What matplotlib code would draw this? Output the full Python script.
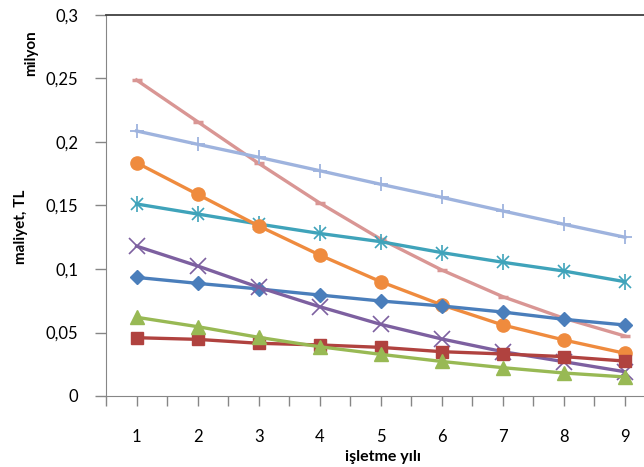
import matplotlib
matplotlib.use('Agg')
import matplotlib.pyplot as plt
from matplotlib.ticker import FuncFormatter, MultipleLocator

plt.rcParams['font.family'] = ['Lato', 'DejaVu Sans']

# veriler (milyon TL)
yil = [1, 2, 3, 4, 5, 6, 7, 8, 9]
mavi = [0.0934, 0.0887, 0.0843, 0.0795, 0.0748, 0.0709, 0.0661, 0.0604, 0.0559]
kirmizi = [0.0459, 0.0446, 0.0415, 0.0402, 0.0383, 0.0349, 0.0331, 0.0310, 0.0275]
yesil = [0.0620, 0.0546, 0.0462, 0.0388, 0.0328, 0.0272, 0.0223, 0.0181, 0.0150]
mor = [0.1180, 0.1024, 0.0856, 0.0703, 0.0564, 0.0449, 0.0349, 0.0270, 0.0191]
turkuaz = [0.1512, 0.1433, 0.1354, 0.1280, 0.1215, 0.1129, 0.1053, 0.0984, 0.0900]
turuncu = [0.1837, 0.1588, 0.1339, 0.1110, 0.0900, 0.0717, 0.0559, 0.0441, 0.0336]
acik_mavi = [0.2087, 0.1982, 0.1880, 0.1774, 0.1667, 0.1564, 0.1457, 0.1352, 0.1250]
pembe = [0.2488, 0.2160, 0.1832, 0.1520, 0.1235, 0.0992, 0.0782, 0.0612, 0.0472]

fig = plt.figure(figsize=(6.44, 4.67), dpi=100)
ax = fig.add_axes([106/644, 1-396/467, (655.5-106)/644, (396-15)/467])

lw = 2.4
ax.plot(yil, pembe, color='#D99694', lw=lw, marker='_', ms=7, mew=2.5)
ax.plot(yil, acik_mavi, color='#9EB3DE', lw=lw, marker='+', ms=10, mew=1.3)
ax.plot(yil, turkuaz, color='#3FA3BA', lw=lw, marker='x', ms=9, mew=1.2)
ax.plot(yil, turkuaz, color='#3FA3BA', lw=0, marker='|', ms=11, mew=1.2)
ax.plot(yil, turuncu, color='#EF8B3E', lw=lw, marker='o', ms=9.5)
ax.plot(yil, mavi, color='#4A7EBB', lw=lw, marker='D', ms=7)
ax.plot(yil, mor, color='#7D60A0', lw=lw, marker='x', ms=11, mew=1.2)
ax.plot(yil, kirmizi, color='#B0423F', lw=lw, marker='s', ms=9)
ax.plot(yil, yesil, color='#98B954', lw=lw, marker='^', ms=9.5)

ax.set_xlim(0.5, 9.5)
ax.set_ylim(0, 0.3)
ax.set_xticks(yil)
ax.set_xticks([i + 0.5 for i in range(0, 10)], minor=True)
ax.yaxis.set_major_locator(MultipleLocator(0.05))
ax.yaxis.set_major_formatter(FuncFormatter(lambda v, p: ('%g' % round(v, 3)).replace('.', ',')))

ax.tick_params(axis='x', which='both', direction='out', length=7, width=1,
               color='#868686', pad=17, labelsize=12)
ax.tick_params(axis='y', direction='out', length=8, width=1,
               color='#868686', pad=12, labelsize=12)

for s in ['left', 'bottom']:
    ax.spines[s].set_color('#868686')
ax.spines['top'].set_color('#404040')
ax.spines['top'].set_linewidth(1.3)
ax.spines['right'].set_visible(False)

fig.text(383/644, 1-457/467, 'işletme yılı', ha='center', va='center',
         fontsize=11.5, fontweight='bold')
fig.text(21/644, 1-227/467, 'maliyet, TL', ha='center', va='center',
         rotation=90, fontsize=11, fontweight='bold')
fig.text(31/644, 1-53/467, 'milyon', ha='center', va='center',
         rotation=90, fontsize=11, fontweight='bold')

fig.savefig('out.png', dpi=100)
